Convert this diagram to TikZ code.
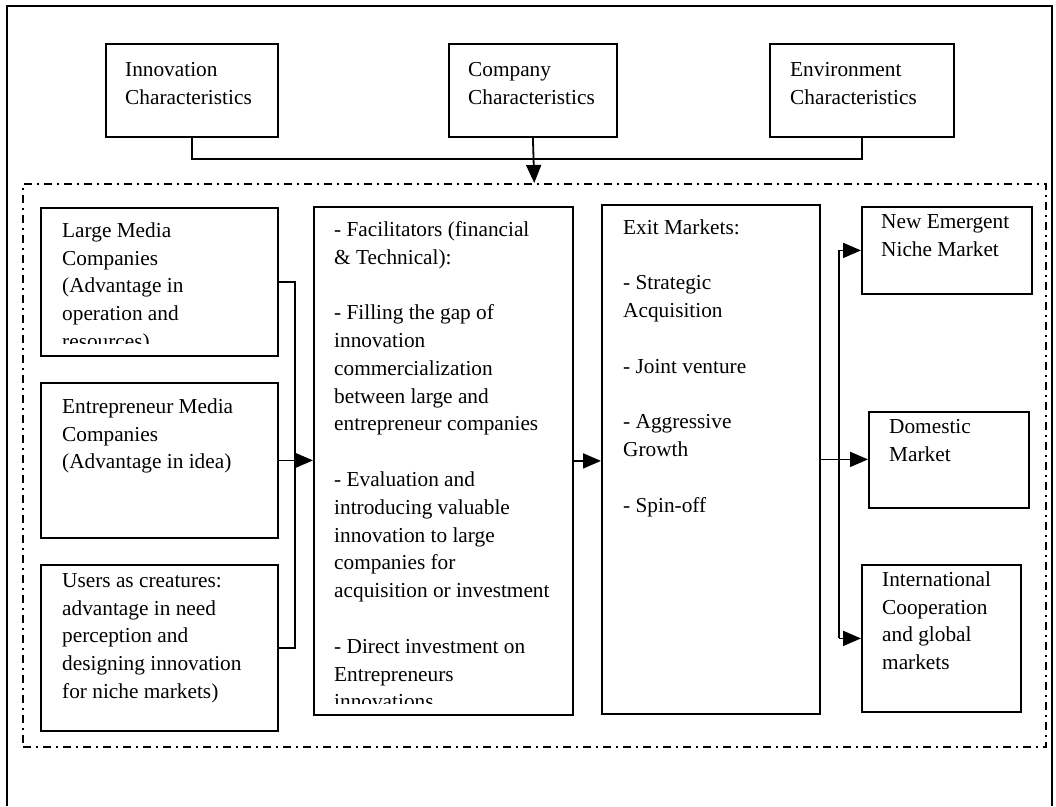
\documentclass[tikz,border=0pt]{standalone}
\usepackage{fontspec}
\setmainfont{Liberation Serif}
\usetikzlibrary{arrows.meta}
\newcommand\bodysz{\fontsize{21.3}{27.8}\selectfont}
\newcommand\fl{\rule{0pt}{20pt}}
\begin{document}
\begin{tikzpicture}[x=1pt,y=-1pt,
  box/.style={draw, line width=1.8pt, inner sep=0pt, anchor=north west},
  txt/.style={inner sep=0pt, anchor=north west, align=left, font=\bodysz},
  conn/.style={line width=1.8pt},
  arr/.style={conn, -{Triangle[length=18pt,width=15pt]}},
  region/.style={draw, line width=1.5pt, dash pattern=on 8pt off 5pt on 2pt off 5pt, inner sep=0pt, anchor=north west}]
\useasboundingbox (0,0) rectangle (1056,806);
% outer frame
\draw[line width=2.2pt] (7,806) -- (7,6) -- (1052,6) -- (1052,806);

% top boxes
\node[box, minimum width=172pt, minimum height=93pt] (innov) at (105,43) {};
\node[txt] (innovT) at (125,56) {\fl Innovation\\Characteristics};
\node[box, minimum width=168pt, minimum height=93pt] (comp) at (448,43) {};
\node[txt] (compT) at (468,56) {\fl Company\\Characteristics};
\node[box, minimum width=184pt, minimum height=93pt] (env) at (769,43) {};
\node[txt] (envT) at (790,56) {\fl Environment\\Characteristics};

% dash-dot region
\node[region, minimum width=1023pt, minimum height=563pt] (grp) at (22,183) {};

% left column
\node[box, minimum width=237pt, minimum height=148pt] (large) at (40,207) {};
\begin{scope}
  \clip (40,207) rectangle (277,343);
  \node[txt] (largeT) at (62,217) {\fl Large Media\\Companies\\(Advantage in\\operation and\\resources)};
\end{scope}
\node[box, minimum width=237pt, minimum height=155pt] (ent) at (40,382) {};
\node[txt] (entT) at (62,393) {\fl Entrepreneur Media\\Companies\\(Advantage in idea)};
\node[box, minimum width=237pt, minimum height=166pt] (users) at (40,564) {};
\node[txt] (usersT) at (62,567) {\fl Users as creatures:\\advantage in need\\perception and\\designing innovation\\for niche markets)};

% middle
\node[box, minimum width=259pt, minimum height=508pt] (mid) at (313,206) {};
\begin{scope}
  \clip (313,206) rectangle (572,703);
  \node[txt] (midT) at (334,216) {\fl - Facilitators (financial\\\& Technical):\\[27.8pt]- Filling the gap of\\innovation\\commercialization\\between large and\\entrepreneur companies\\[27.8pt]- Evaluation and\\introducing valuable\\innovation to large\\companies for\\acquisition or investment\\[27.8pt]- Direct investment on\\Entrepreneurs\\innovations};
\end{scope}

% exit markets
\node[box, minimum width=218pt, minimum height=509pt] (exit) at (601,204) {};
\node[txt] (exitT) at (623,214) {\fl Exit Markets:\\[27.8pt]- Strategic\\Acquisition\\[27.8pt]- Joint venture\\[27.8pt]- Aggressive\\Growth\\[27.8pt]- Spin-off};

% right column
\node[box, minimum width=170pt, minimum height=87pt] (newm) at (861,206) {};
\node[txt] (newmT) at (881,208) {\fl New Emergent\\Niche Market};
\node[box, minimum width=160pt, minimum height=96pt] (dom) at (868,411) {};
\node[txt] (domT) at (889,413) {\fl Domestic\\Market};
\node[box, minimum width=159pt, minimum height=147pt] (intl) at (861,564) {};
\node[txt] (intlT) at (882,566) {\fl International\\Cooperation\\and global\\markets};

% connectors
\coordinate (tbus) at (0,159);
\draw[conn] (innov.south) -- (innov.south |- tbus) -- (env.south |- tbus) -- (env.south);
\draw[arr] (comp.south) -- (grp.north);

\coordinate (lbus) at (295,0);
\draw[conn] (large.east) -- (large.east -| lbus) -- (users.east -| lbus) -- (users.east);
\draw[arr] (ent.east) -- (ent.east -| mid.west);
\draw[arr] (mid.east) -- (mid.east -| exit.west);

\coordinate (rbus) at (839,0);
\draw[arr] (exit.east) -- (exit.east -| dom.west);
\draw[conn] (rbus |- newm.west) -- (rbus |- intl.west);
\draw[arr] (rbus |- newm.west) -- (newm.west);
\draw[arr] (rbus |- intl.west) -- (intl.west);
\end{tikzpicture}
\end{document}
